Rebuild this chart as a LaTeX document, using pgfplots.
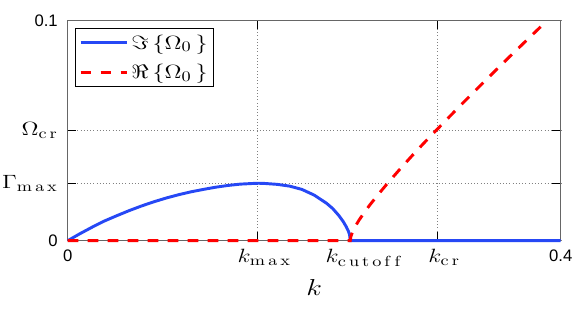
\documentclass[border=0pt]{standalone}
\usepackage[no-math]{fontspec}
\setmainfont{Liberation Sans}
\usepackage{pgfplots}
\pgfplotsset{compat=1.18}
\DeclareMathSizes{14.4}{14.4}{10.95}{9}
\DeclareMathSizes{17.28}{17.28}{12}{10}
\definecolor{myblue}{RGB}{38,72,245}
\definecolor{myred}{RGB}{255,0,0}
\newcommand{\num}[1]{{\fontsize{12.5}{14}\selectfont #1}}
\newcommand{\wide}[1]{\scalebox{1.25}[1]{#1}}
\begin{document}
\begin{tikzpicture}
\begin{axis}[
 at={(0,0)}, anchor=south west,
 scale only axis, width=369.75pt, height=165pt,
 xmin=0, xmax=0.4, ymin=0, ymax=0.1,
 xtick={0,0.154,0.3,0.4},
 xticklabels={\num{0},\hspace{10pt}\wide{$k_{\mathrm{m\,a\,x}}$},\hspace{10pt}\wide{$k_{\mathrm{c\,r}}$},\num{0.4}},
 extra x ticks={0.2404}, extra x tick labels={\wide{$k_{\mathrm{c\,u\,t\,o\,f\,f}}$}},
 extra x tick style={grid=none, major tick length=0pt},
 ytick={0,0.0259,0.05,0.1},
 yticklabels={\num{0},\wide{$\Gamma_{\mathrm{m\,a\,x}}$},\wide{$\Omega_{\mathrm{c\,r}}$},\num{0.1}},
 grid=major, grid style={dotted, black!50, line width=0.6pt},
 tick align=inside, major tick length=6.5pt,
 tick style={black, line width=0.6pt},
 axis line style={black!60, line width=0.8pt},
 xlabel={\wide{$k$}}, xlabel style={font=\fontsize{17.28}{19}\selectfont, yshift=-3pt},
 ticklabel style={font=\fontsize{14.4}{17}\selectfont},
 xticklabel style={yshift=-3pt},
 yticklabel style={xshift=-4pt},
 clip=false,
 legend style={at={(0.0154,0.9655)}, anchor=north west, draw=black, line width=0.6pt,
   font=\fontsize{14.4}{17}\selectfont, legend cell align=left, inner sep=2.5pt,
   row sep=6pt},
 legend image code/.code={\draw[#1] (0pt,0pt) -- (35pt,0pt);},
]
\addplot[myblue, line width=2.2pt] coordinates {
(0,0) (0.01,0.0032) (0.02,0.0062) (0.03,0.0090) (0.04,0.0114) (0.05,0.0137)
(0.06,0.0158) (0.07,0.0177) (0.08,0.0194) (0.09,0.0209) (0.10,0.0222)
(0.11,0.0233) (0.12,0.0243) (0.13,0.0251) (0.14,0.0257) (0.15,0.0260)
(0.155,0.0261) (0.16,0.0260) (0.17,0.0256) (0.18,0.0248) (0.19,0.0233)
(0.20,0.0207) (0.21,0.0170) (0.215,0.0146) (0.22,0.0114) (0.2235,0.0087)
(0.226,0.0063) (0.2278,0.0042) (0.2287,0.0026) (0.2292,0) (0.4,0)
};
\addlegendentry{\wide{$\Im\,\{\Omega_0\,\}$}}
\addplot[myred, line width=2.2pt, dash pattern=on 8pt off 7pt] coordinates {
(0,0) (0.2292,0) (0.2297,0.0018) (0.2302,0.0027) (0.2312,0.0041) (0.2332,0.0064)
(0.2362,0.0092) (0.2402,0.0125) (0.2452,0.0163) (0.2512,0.0205) (0.2592,0.0259)
(0.2692,0.0323) (0.2792,0.0385) (0.2892,0.0445) (0.2992,0.0503) (0.3192,0.0618)
(0.3392,0.0730) (0.3592,0.0840) (0.3792,0.0948) (0.3889,0.1000)
};
\addlegendentry{\wide{$\Re\,\{\Omega_0\,\}$}}
\end{axis}
\pgfresetboundingbox
\path[use as bounding box] (-50.8pt,-53.5pt) rectangle (384.95pt,180.5pt);
\end{tikzpicture}
\end{document}
